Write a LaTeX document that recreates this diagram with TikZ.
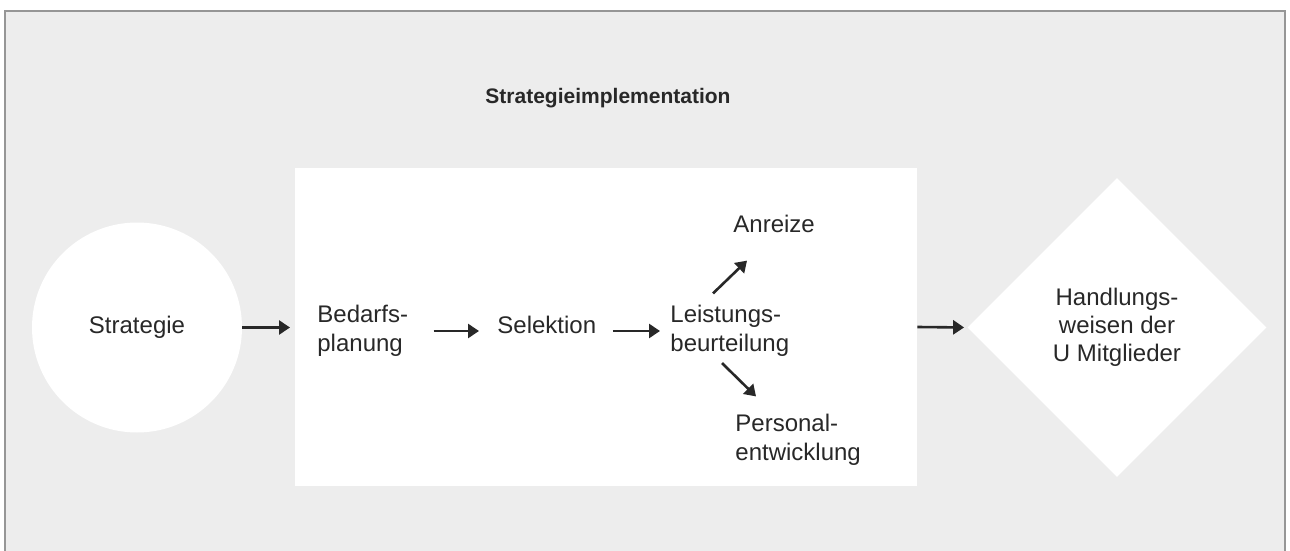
\documentclass[tikz,border=0pt]{standalone}
\usepackage{fontspec}
\setmainfont{Liberation Sans}
\usetikzlibrary{shapes.geometric,arrows.meta,calc}
\definecolor{bggrey}{RGB}{237,237,237}
\definecolor{framegrey}{RGB}{150,150,150}
\definecolor{ink}{RGB}{40,40,40}

\begin{document}
\begin{tikzpicture}[x=0.5pt,y=-0.5pt,
  txt/.style={inner sep=0pt,align=left,text=ink,font=\fontsize{12}{14.5}\selectfont},
  arr/.style={draw=ink,line width=1.3pt,-{Triangle[length=5.5pt,width=7pt]}}]
\useasboundingbox (0,0) rectangle (1290,551);
\fill[bggrey] (5,11) rectangle (1285,551);
\draw[framegrey,line width=0.7pt] (5,551) -- (5,11) -- (1285,11) -- (1285,551);
% white field and title
\node[fill=white,minimum width=311pt,minimum height=159pt,inner sep=0pt] (impl) at (606,327) {};
\node[txt,font=\fontsize{10.5}{12}\selectfont\bfseries,anchor=base] (titel) at (608,104) {Strategieimplementation};
% boxes
\node[txt,circle,fill=white,minimum size=105pt] (strat) at (137,327.5) {Strategie};
\node[txt,anchor=west] (bedarf) at (317,331) {Bedarfs-\\planung};
\node[txt,anchor=base west] (selekt) at (497,333) {Selektion};
\node[txt,anchor=west] (leist) at (670,331) {Leistungs-\\beurteilung};
\node[txt,anchor=base west] (anreiz) at (733,232) {Anreize};
\node[txt,anchor=west] (personal) at (735,440) {Personal-\\entwicklung};
\node[txt,diamond,fill=white,minimum size=149.5pt,align=center,font=\fontsize{12}{14}\selectfont] (handl) at (1117,327.5) {Handlungs-\\weisen der\\U Mitglieder};
% arrows
\draw[arr,shorten >=13.5pt] (strat.east) -- (strat.east -| bedarf.west);
\draw[arr,shorten <=12.6pt,shorten >=9pt] (bedarf.east) -- (bedarf.east -| selekt.west);
\draw[arr,shorten <=8.2pt,shorten >=5pt] (selekt.east |- leist.west) -- (leist.west);
\draw[arr] ($(leist.north west)+(43,-11.5)$) -- ($(anreiz.south west)+(14,28)$);
\draw[arr] ($(leist.south west)+(52,6)$) -- ($(personal.north west)+(21,-17.5)$);
\draw[arr,shorten >=1.5pt] (impl.east) -- (handl.west);
\end{tikzpicture}
\end{document}
